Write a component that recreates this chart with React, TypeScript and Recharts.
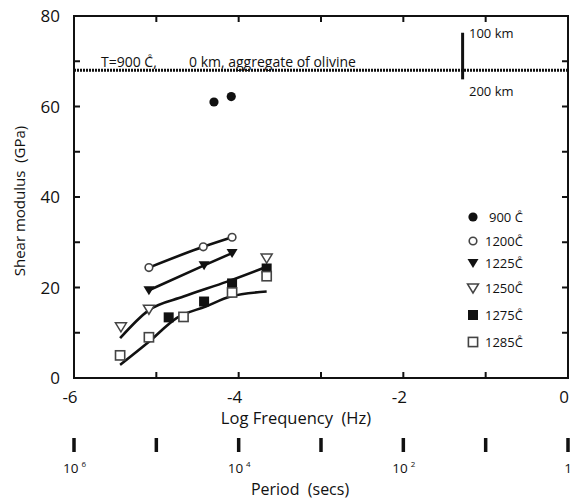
import {
  ComposedChart,
  Legend,
  Line,
  ReferenceLine,
  Scatter,
  XAxis,
  YAxis,
} from 'recharts'

const FONT = '"Open Sans", "Noto Sans", sans-serif'
const INK = '#111'
const OPEN = '#444'

// plot box in page pixels (margins + axis sizes below)
const PLOT_L = 74
const PLOT_T = 16
const PLOT_W = 494
const PLOT_H = 362

// log frequency ticks / period labels
const FREQ_TICKS = [-6, -5, -4, -3, -2, -1, 0]
const PERIOD_EXP: Record<number, string> = { [-6]: '6', [-4]: '4', [-2]: '2' }
const G_TICKS = [0, 10, 20, 30, 40, 50, 60, 70, 80]
const X_MIN = -6
const X_MAX = 0
const G_MAX = 80

// measured shear modulus (GPa) vs log frequency (Hz)
const g900 = [
  { x: -4.3, y: 61.0 },
  { x: -4.09, y: 62.2 },
]
const g1200 = [
  { x: -5.09, y: 24.4 },
  { x: -4.43, y: 29.0 },
  { x: -4.08, y: 31.1 },
]
const g1225 = [
  { x: -5.09, y: 19.4 },
  { x: -4.42, y: 24.9 },
  { x: -4.08, y: 27.6 },
]
const g1250 = [
  { x: -5.43, y: 11.3 },
  { x: -5.09, y: 15.2 },
  { x: -3.66, y: 26.5 },
]
const g1275 = [
  { x: -4.85, y: 13.4 },
  { x: -4.42, y: 16.9 },
  { x: -4.08, y: 20.9 },
  { x: -3.66, y: 24.2 },
]
const g1285 = [
  { x: -5.44, y: 5.0 },
  { x: -5.09, y: 9.0 },
  { x: -4.67, y: 13.5 },
  { x: -4.08, y: 18.9 },
  { x: -3.66, y: 22.5 },
]

// model fit curves
const fit1200 = [
  { x: -5.09, y: 24.4 },
  { x: -4.43, y: 29.0 },
  { x: -4.08, y: 31.1 },
]
const fit1225 = [
  { x: -5.09, y: 19.4 },
  { x: -4.42, y: 24.9 },
  { x: -4.08, y: 27.6 },
]
const fit1250 = [
  { x: -5.44, y: 8.8 },
  { x: -5.09, y: 15.0 },
  { x: -4.67, y: 18.0 },
  { x: -4.14, y: 21.3 },
  { x: -3.66, y: 24.6 },
]
const fit1285 = [
  { x: -5.44, y: 2.9 },
  { x: -5.09, y: 8.0 },
  { x: -4.75, y: 13.3 },
  { x: -4.4, y: 15.8 },
  { x: -4.1, y: 18.0 },
  { x: -3.66, y: 19.1 },
]

// olivine reference level and depth marker
const OLIVINE_G = 68
const DEPTH_MARK = [
  { x: -1.28, y: 66 },
  { x: -1.28, y: 76.3 },
]

// pixel position of axis ticks for the frame decoration
const tickPx = (t: number) => PLOT_L + ((t - X_MIN) / (X_MAX - X_MIN)) * PLOT_W
const tickPy = (g: number) => PLOT_T + PLOT_H - (g / G_MAX) * PLOT_H

type Kind = 'dot' | 'circle' | 'tri' | 'otri' | 'sq' | 'osq'

function markerShape(kind: Kind, cx: number, cy: number) {
  switch (kind) {
    case 'dot':
      return <circle cx={cx} cy={cy} r={4.6} fill={INK} />
    case 'circle':
      return <circle cx={cx} cy={cy} r={3.8} fill="#fff" stroke={OPEN} strokeWidth={1.6} />
    case 'tri':
      return <path d={`M${cx - 5.5},${cy - 4} L${cx + 5.5},${cy - 4} L${cx},${cy + 5} Z`} fill={INK} />
    case 'otri':
      return (
        <path
          d={`M${cx - 5.5},${cy - 4} L${cx + 5.5},${cy - 4} L${cx},${cy + 5} Z`}
          fill="#fff"
          stroke={OPEN}
          strokeWidth={1.5}
        />
      )
    case 'sq':
      return <rect x={cx - 5} y={cy - 5} width={10} height={10} fill={INK} />
    default:
      return (
        <rect x={cx - 4.6} y={cy - 4.6} width={9.2} height={9.2} fill="#fff" stroke={OPEN} strokeWidth={1.6} />
      )
  }
}

const shapeOf = (kind: Kind) => (p: any) => markerShape(kind, p.cx, p.cy)

const SERIES: { name: string; kind: Kind; data: { x: number; y: number }[] }[] = [
  { name: '900', kind: 'dot', data: g900 },
  { name: '1200', kind: 'circle', data: g1200 },
  { name: '1225', kind: 'tri', data: g1225 },
  { name: '1250', kind: 'otri', data: g1250 },
  { name: '1275', kind: 'sq', data: g1275 },
  { name: '1285', kind: 'osq', data: g1285 },
]
const LEGEND_GAPS = [0, 23.5, 22, 25, 27, 27.5]

function DegC() {
  return (
    <span style={{ position: 'relative', display: 'inline-block' }}>
      C
      <span style={{ position: 'absolute', left: 3, top: -1, fontSize: 9, lineHeight: 1 }}>°</span>
    </span>
  )
}

function LegendBox() {
  return (
    <div style={{ fontFamily: FONT, fontSize: 13, color: INK, lineHeight: '14px' }}>
      {SERIES.map((s, i) => (
        <div
          key={s.name}
          style={{ display: 'flex', alignItems: 'center', height: 14, marginTop: i === 0 ? 0 : LEGEND_GAPS[i] - 14 }}
        >
          <svg width={14} height={14} style={{ marginRight: s.name.length === 3 ? 9 : 5 }}>
            {markerShape(s.kind, 7, 7)}
          </svg>
          <span style={{ whiteSpace: 'pre' }}>
            {s.name.length === 3 ? s.name + ' ' : s.name}
            <DegC />
          </span>
        </div>
      ))}
    </div>
  )
}

// bottom axis: frequency label and the period scale beneath it
const BottomTick = (p: any) => {
  const v = p.payload.value
  const { x, y } = p
  const e = PERIOD_EXP[v]
  return (
    <g>
      {v % 2 === 0 && (
        <text x={x - 4} y={y + 19} dy="0.36em" textAnchor="middle" fontSize={17} fontFamily={FONT} fill={INK}>
          {String(v)}
        </text>
      )}
      <line x1={x} x2={x} y1={y + 60} y2={y + 74} stroke={INK} strokeWidth={3.5} />
      {v === 0 && (
        <text x={x} y={y + 90} dy="0.36em" textAnchor="middle" fontSize={13.5} fontFamily={FONT} fill={INK}>
          1
        </text>
      )}
      {e && (
        <text x={x - 11} y={y + 90} dy="0.36em" fontSize={13.5} fontFamily={FONT} fill={INK}>
          10
          <tspan dx={3} dy={-6} fontSize={8}>
            {e}
          </tspan>
        </text>
      )}
    </g>
  )
}

const LeftTick = (p: any) => {
  const v = p.payload.value
  if (v % 20 !== 0) return <g />
  return (
    <text x={p.x - 14} y={p.y} dy="0.36em" textAnchor="end" fontSize={17} fontFamily={FONT} fill={INK}>
      {String(v)}
    </text>
  )
}

// plot frame with inward ticks on all four sides, laid over the chart
function Frame() {
  const R = PLOT_L + PLOT_W
  const B = PLOT_T + PLOT_H
  return (
    <svg
      width={572}
      height={500}
      style={{ position: 'absolute', left: 0, top: 0, pointerEvents: 'none' }}
    >
      <g stroke={INK} strokeWidth={2}>
        <line x1={PLOT_L - 1} x2={R + 1} y1={PLOT_T} y2={PLOT_T} />
        <line x1={R} x2={R} y1={PLOT_T} y2={B} />
        <line x1={PLOT_L - 1} x2={R + 1} y1={B} y2={B} />
        <line x1={PLOT_L} x2={PLOT_L} y1={PLOT_T} y2={B} />
        {FREQ_TICKS.map((t) => (
          <line key={`b${t}`} x1={tickPx(t)} x2={tickPx(t)} y1={B} y2={B - 6} />
        ))}
        {FREQ_TICKS.map((t) => (
          <line key={`t${t}`} x1={tickPx(t)} x2={tickPx(t)} y1={PLOT_T} y2={PLOT_T + 6} />
        ))}
        {G_TICKS.map((g) => (
          <line key={`l${g}`} x1={PLOT_L} x2={PLOT_L + 6} y1={tickPy(g)} y2={tickPy(g)} />
        ))}
        {G_TICKS.map((g) => (
          <line key={`r${g}`} x1={R} x2={R - 6} y1={tickPy(g)} y2={tickPy(g)} />
        ))}
      </g>
    </svg>
  )
}

const axisLine = { stroke: INK, strokeWidth: 2 }

export default function App() {
  return (
    <div style={{ position: 'absolute', left: 0, top: 0, width: 572, height: 500, background: '#fff' }}>
      <ComposedChart width={572} height={500} margin={{ top: PLOT_T, right: 4, left: 0, bottom: 0 }}>
        <XAxis
          type="number"
          dataKey="x"
          domain={[X_MIN, X_MAX]}
          ticks={FREQ_TICKS}
          interval={0}
          height={122}
          axisLine={axisLine}
          tickLine={false}
          tickSize={0}
          tickMargin={0}
          tick={BottomTick}
        />
        <YAxis
          type="number"
          domain={[0, G_MAX]}
          ticks={G_TICKS}
          interval={0}
          width={PLOT_L}
          axisLine={axisLine}
          tickLine={false}
          tickSize={0}
          tickMargin={0}
          tick={LeftTick}
        />
        <ReferenceLine y={OLIVINE_G} stroke={INK} strokeWidth={3} strokeDasharray="2 1" />
        <ReferenceLine segment={DEPTH_MARK} stroke={INK} strokeWidth={3} />
        {[fit1200, fit1225, fit1250, fit1285].map((d, i) => (
          <Line
            key={i}
            data={d}
            dataKey="y"
            type="monotone"
            stroke={INK}
            strokeWidth={2.6}
            dot={false}
            activeDot={false}
            legendType="none"
            isAnimationActive={false}
          />
        ))}
        {SERIES.map((s) => (
          <Scatter
            key={s.name}
            name={s.name}
            data={s.data}
            dataKey="y"
            shape={shapeOf(s.kind)}
            isAnimationActive={false}
          />
        ))}
        <Legend
          layout="vertical"
          align="center"
          verticalAlign="middle"
          content={<LegendBox />}
          wrapperStyle={{ left: 466, top: 210, width: 90 }}
        />
        <text x={101} y={62} dy="0.36em" fontSize={14} fontFamily={FONT} fill={INK}>
          T=900 C,
        </text>
        <text x={150} y={60.5} textAnchor="middle" fontSize={9} fontFamily={FONT} fill={INK}>
          °
        </text>
        <text x={189} y={62} dy="0.36em" fontSize={14} fontFamily={FONT} fill={INK}>
          0 km, aggregate of olivine
        </text>
        <text x={469} y={33} dy="0.36em" fontSize={13} fontFamily={FONT} fill={INK}>
          100 km
        </text>
        <text x={469} y={91} dy="0.36em" fontSize={13} fontFamily={FONT} fill={INK}>
          200 km
        </text>
        <text
          x={296}
          y={418}
          dy="0.36em"
          textAnchor="middle"
          fontSize={16.5}
          fontFamily={FONT}
          fill={INK}
          style={{ whiteSpace: 'pre' }}
        >
          Log Frequency  (Hz)
        </text>
        <text
          x={300}
          y={489}
          dy="0.36em"
          textAnchor="middle"
          fontSize={16}
          fontFamily={FONT}
          fill={INK}
          style={{ whiteSpace: 'pre' }}
        >
          Period  (secs)
        </text>
        <text
          x={20}
          y={201}
          dy="0.36em"
          textAnchor="middle"
          fontSize={15}
          fontFamily={FONT}
          fill={INK}
          style={{ whiteSpace: 'pre' }}
          transform="rotate(-90 20 201)"
        >
          Shear modulus  (GPa)
        </text>
      </ComposedChart>
      <Frame />
    </div>
  )
}
